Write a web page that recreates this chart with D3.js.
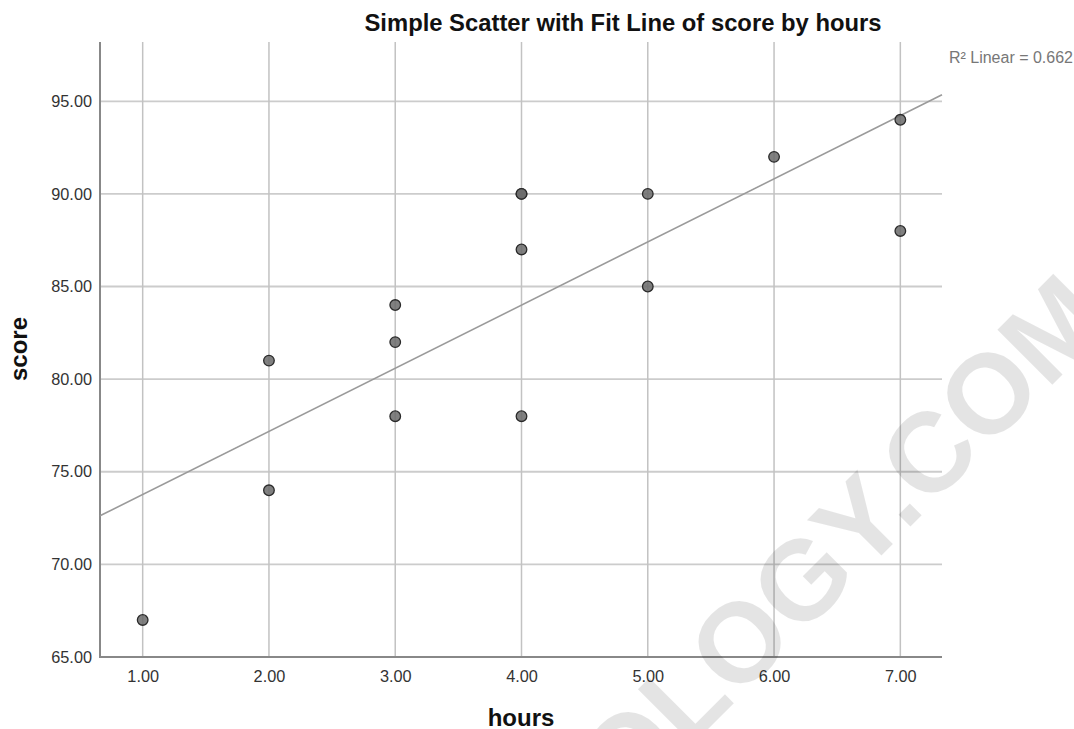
<!DOCTYPE html>
<html><head><meta charset="utf-8">
<script src="https://cdn.jsdelivr.net/npm/d3@7"></script>
<style>body{margin:0;background:#fff}svg{display:block}</style>
</head><body>
<svg id="c" width="1074" height="729"></svg>
<script>
const hours = [1, 2, 2, 3, 3, 3, 4, 4, 4, 4, 5, 5, 6, 7, 7];
const score = [67, 81, 74, 84, 82, 78, 90, 90, 87, 78, 90, 85, 92, 94, 88];
const xTicks = [1, 2, 3, 4, 5, 6, 7];
const yTicks = [65, 70, 75, 80, 85, 90, 95];
const title = "Simple Scatter with Fit Line of score by hours";
const rLabel = "R² Linear = 0.662";

const svg = d3.select("#c");
const L = 100, R = 942, T = 42, B = 657;
const x = d3.scaleLinear().domain([0.662, 7.33]).range([L, R]);
const y = d3.scaleLinear().domain([65, 98.2]).range([B, T]);
const font = "'Liberation Sans', Arial, sans-serif";

// grid
svg.append("g").selectAll("line").data(yTicks.filter(d => d > 65)).join("line")
  .attr("x1", L).attr("x2", R).attr("y1", d => y(d)).attr("y2", d => y(d))
  .attr("stroke", "#cccccc").attr("stroke-width", 1.8);
svg.append("g").selectAll("line").data(xTicks).join("line")
  .attr("y1", T).attr("y2", B).attr("x1", d => x(d)).attr("x2", d => x(d))
  .attr("stroke", "#c2c2c2").attr("stroke-width", 1.5);

// axes
const xAxis = d3.axisBottom(x).tickValues(xTicks).tickFormat(d3.format(".2f")).tickSize(0).tickPadding(13);
const yAxis = d3.axisLeft(y).tickValues(yTicks).tickFormat(d3.format(".2f")).tickSize(0).tickPadding(8);
const gx = svg.append("g").attr("transform", `translate(0,${B})`).call(xAxis);
const gy = svg.append("g").attr("transform", `translate(${L},0)`).call(yAxis);
[gx, gy].forEach(g => {
  g.select(".domain").remove();
  g.selectAll("text").attr("font-family", font).attr("font-size", 16.3).attr("fill", "#333");
});
svg.append("line").attr("x1", L).attr("x2", L).attr("y1", T).attr("y2", B + 1)
  .attr("stroke", "#888").attr("stroke-width", 2);
svg.append("line").attr("x1", L).attr("x2", R).attr("y1", B).attr("y2", B)
  .attr("stroke", "#888").attr("stroke-width", 2);

// fit line (least squares from data)
const mx = d3.mean(hours), my = d3.mean(score);
const sxy = d3.sum(hours, (h, i) => (h - mx) * (score[i] - my));
const sxx = d3.sum(hours, h => (h - mx) ** 2);
const slope = sxy / sxx, icpt = my - slope * mx;
const [x0, x1] = x.domain();
svg.append("line").attr("x1", x(x0)).attr("y1", y(icpt + slope * x0))
  .attr("x2", x(x1)).attr("y2", y(icpt + slope * x1))
  .attr("stroke", "#9a9a9a").attr("stroke-width", 1.6);

// points
svg.append("g").selectAll("circle").data(hours.map((h, i) => [h, score[i]])).join("circle")
  .attr("cx", d => x(d[0])).attr("cy", d => y(d[1])).attr("r", 5.3)
  .attr("fill", "#6a6a6a").attr("fill-opacity", 0.85).attr("stroke", "#2a2a2a").attr("stroke-width", 1.3);

// texts
svg.append("text").attr("x", 623).attr("y", 31).attr("text-anchor", "middle")
  .attr("font-family", font).attr("font-weight", "bold").attr("font-size", 23.8).attr("fill", "#111").text(title);
svg.append("text").attr("x", 1073).attr("y", 63).attr("text-anchor", "end")
  .attr("font-family", font).attr("font-size", 16).attr("fill", "#777").text(rLabel);
svg.append("text").attr("x", 521).attr("y", 726).attr("text-anchor", "middle")
  .attr("font-family", font).attr("font-weight", "bold").attr("font-size", 24).attr("fill", "#111").text("hours");
svg.append("text").attr("transform", "translate(27,349) rotate(-90)").attr("text-anchor", "middle")
  .attr("font-family", font).attr("font-weight", "bold").attr("font-size", 24).attr("fill", "#111").text("score");

// watermark
svg.append("text").attr("transform", "translate(430,1007) rotate(-45)")
  .attr("font-family", font).attr("font-weight", "bold").attr("font-size", 113)
  .attr("fill", "#000").attr("fill-opacity", 0.105).text("STATOLOGY.COM");
</script>
</body></html>
